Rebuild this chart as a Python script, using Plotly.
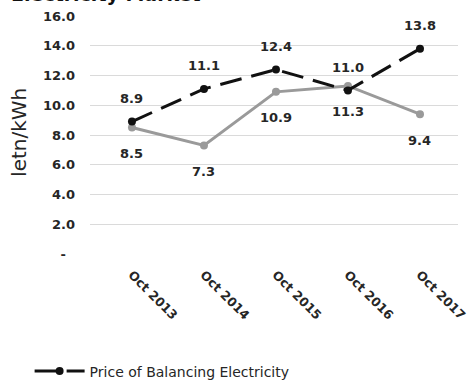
import plotly.graph_objects as go

# Categories and series values
periods = ["Oct 2013", "Oct 2014", "Oct 2015", "Oct 2016", "Oct 2017"]
balancing_price = [8.9, 11.1, 12.4, 11.0, 13.8]
second_series = [8.5, 7.3, 10.9, 11.3, 9.4]
y_ticks = [0, 2, 4, 6, 8, 10, 12, 14, 16]
y_tick_labels = ["-\u00a0\u00a0", "2.0", "4.0", "6.0", "8.0", "10.0", "12.0", "14.0", "16.0"]

FONT = "DejaVu Sans"
TXT = "#262626"

fig = go.Figure()

fig.add_trace(go.Scatter(
    x=list(range(len(periods))), y=second_series,
    mode="lines+markers", name="",
    line=dict(color="#9a9a9a", width=3),
    marker=dict(color="#9a9a9a", size=8),
    showlegend=False,
))

fig.add_trace(go.Scatter(
    x=list(range(len(periods))), y=balancing_price,
    mode="lines+markers", name="Price of Balancing Electricity",
    line=dict(color="#111111", width=3, dash="22px,10px"),
    marker=dict(color="#111111", size=8),
))

# Value labels: black series above, grey series below
for i, v in enumerate(balancing_price):
    fig.add_annotation(x=i, y=v, text=f"{v:.1f}", showarrow=False, yshift=23,
                       font=dict(family=FONT, size=13, color=TXT, weight="bold"))
for i, v in enumerate(second_series):
    fig.add_annotation(x=i, y=v, text=f"{v:.1f}", showarrow=False, yshift=-26,
                       font=dict(family=FONT, size=13, color=TXT, weight="bold"))

# Title (runs off the top edge) and y-axis title
fig.add_annotation(xref="paper", yref="paper", x=0.307, y=1.093, xanchor="right",
                   yanchor="middle", text="Electricity Market", showarrow=False,
                   font=dict(family=FONT, size=19, color="#111111", weight="bold"))
fig.add_annotation(xref="paper", yref="paper", x=-0.193, y=0.513, xanchor="center",
                   yanchor="middle", text="letn/kWh", showarrow=False, textangle=-90,
                   font=dict(family=FONT, size=20, color=TXT))

fig.update_layout(
    width=470, height=383,
    margin=dict(l=90, r=12, t=16, b=129, autoexpand=False),
    paper_bgcolor="white", plot_bgcolor="white",
    font=dict(family=FONT, color=TXT),
    xaxis=dict(
        range=[-0.583, 4.528], automargin=False,
        tickvals=list(range(len(periods))), ticktext=periods,
        tickangle=45, showgrid=False, zeroline=False, showline=False,
        tickfont=dict(family=FONT, size=12.5, color=TXT, weight="bold"),
        ticks="", fixedrange=True, ticklabelstandoff=10,
    ),
    yaxis=dict(
        range=[0, 16], tickvals=y_ticks, ticktext=y_tick_labels, automargin=False,
        showgrid=True, gridcolor="#dadada", gridwidth=1,
        zeroline=False, showline=False, ticks="",
        ticklabelstandoff=14,
        tickfont=dict(family=FONT, size=13, color=TXT, weight="bold"),
    ),
    showlegend=True,
    legend=dict(orientation="h", x=0.063, y=0.03, xanchor="left", yanchor="middle",
                xref="container", yref="container", itemwidth=50,
                font=dict(family=FONT, size=14, color=TXT)),
)

fig.write_html("out.html")
